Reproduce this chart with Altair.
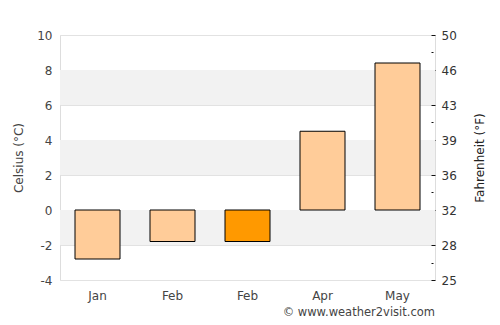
import altair as alt
import pandas as pd
import json

months = ["Jan", "Feb", "Feb", "Apr", "May"]
temps_c = [-2.8, -1.8, -1.8, 4.5, 8.4]
highlight = [False, False, True, False, False]
band_lo = [6, 2, -2]
band_hi = [8, 4, 0]
c_ticks = [-4, -2, 0, 2, 4, 6, 8, 10]
f_ticks = list(range(-4, 11))

W, H = 375, 245

df = pd.DataFrame({"idx": list(range(len(months))), "label": months,
                   "temp": temps_c, "hl": highlight})
bands = pd.DataFrame({"lo": band_lo, "hi": band_hi})

yscale = alt.Scale(domain=[-4, 10], nice=False, zero=False)
label_expr = "%s[datum.value]" % json.dumps(months)

band_layer = alt.Chart(bands).mark_rect(color="#f2f2f2").encode(
    x=alt.value(0), x2=alt.value(W),
    y=alt.Y("lo:Q", scale=yscale, axis=alt.Axis(
        values=c_ticks, title="Celsius (°C)", grid=True, gridColor="#e2e2e2",
        ticks=False, domain=False, labelColor="#444", labelFontSize=12,
        labelExpr="'' + datum.value",
        labelPadding=8, titleColor="#444", titleFontSize=12, titleFontWeight="normal",
        titlePadding=11)),
    y2="hi:Q",
)

bars = alt.Chart(df).mark_bar(stroke="black", strokeWidth=1).encode(
    x=alt.X("idx:O", sort=None,
            scale=alt.Scale(paddingInner=0.4, paddingOuter=0.2),
            axis=alt.Axis(labelExpr=label_expr, title=None, ticks=False, domain=False,
                          labelAngle=0, labelPadding=10, labelFontSize=12,
                          labelColor="#444")),
    y=alt.Y("temp:Q", scale=yscale, axis=None),
    color=alt.condition(alt.datum.hl, alt.value("#ff9900"), alt.value("#ffcc99")),
)

right = alt.Chart(df).mark_point(opacity=0).encode(
    y=alt.Y("temp:Q", scale=yscale, axis=alt.Axis(
        orient="right", values=f_ticks, grid=False, domain=False,
        labelExpr="datum.value % 2 == 0 ? format(round(datum.value*9/5+32), 'd') : ''",
        tickColor="#111",
        tickSize={"condition": {"test": "datum.value % 2 == 0", "value": 4}, "value": 2},
        offset=-4,
        labelColor="#333", labelFontSize=12, labelPadding=6,
        title="Fahrenheit (°F)", titleAngle=270, titleColor="#222",
        titleFontSize=12, titleFontWeight="normal", titlePadding=30)),
)

credit = alt.Chart(pd.DataFrame({"t": ["© www.weather2visit.com"]})).mark_text(
    align="right", baseline="middle", fontSize=11.5, color="#444"
).encode(text="t:N", x=alt.value(W), y=alt.value(H + 33))

chart = alt.layer(band_layer, bars, right, credit).resolve_scale(
    y="shared").resolve_axis(y="independent").properties(
    width=W, height=H, autosize=alt.AutoSizeParams(type="none"),
    padding={"left": 60, "top": 35, "right": 65, "bottom": 45},
).configure(font="DejaVu Sans").configure_view(stroke="#dddddd", strokeWidth=1)

chart.save("out.html", embed_options={"renderer": "svg", "actions": False})
